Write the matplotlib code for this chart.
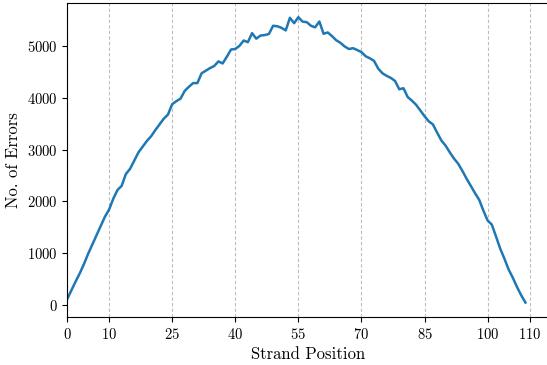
import matplotlib
matplotlib.use("Agg")
import matplotlib.pyplot as plt
import numpy as np

plt.rcParams['font.family'] = 'cmr10'
plt.rcParams['mathtext.fontset'] = 'cm'
plt.rcParams['axes.formatter.use_mathtext'] = True

# errors counted at every strand position
positions = np.arange(0, 110)
errors = [
    100, 270, 440, 600, 780, 980, 1160, 1340, 1520, 1700,
    1840, 2050, 2220, 2300, 2530, 2630, 2790, 2950, 3060, 3170,
    3260, 3380, 3490, 3600, 3680, 3880, 3940, 3990, 4140, 4220,
    4290, 4290, 4480, 4530, 4580, 4620, 4710, 4670, 4800, 4940,
    4950, 5010, 5115, 5082, 5257, 5150, 5210, 5220, 5240, 5400,
    5390, 5360, 5310, 5554, 5450, 5566, 5480, 5470, 5400, 5370,
    5483, 5245, 5270, 5200, 5120, 5070, 5000, 4950, 4966, 4930,
    4890, 4810, 4770, 4720, 4570, 4480, 4430, 4390, 4330, 4170,
    4190, 4020, 3950, 3870, 3760, 3650, 3550, 3490, 3330, 3180,
    3080, 2950, 2830, 2730, 2590, 2440, 2300, 2160, 2030, 1820,
    1630, 1550, 1320, 1084, 890, 680, 520, 340, 180, 40,
]
xticks = [0, 10, 25, 40, 55, 70, 85, 100, 110]

fig = plt.figure(figsize=(5.47, 3.65), dpi=100)
ax = fig.add_axes([0.1225, 0.132, 0.88, 0.86])

ax.plot(positions, errors, color='#1f77b4', linewidth=1.8)
ax.set_xlim(left=0)
ax.set_xticks(xticks)
ax.grid(axis='x', linestyle=(0, (3, 2)), color='#bdbdbd', linewidth=0.8)
ax.tick_params(labelsize=10.5)
ax.set_xlabel('Strand Position', fontsize=12)
ax.set_ylabel('No. of Errors', fontsize=12)

fig.savefig('out.png', dpi=100)
